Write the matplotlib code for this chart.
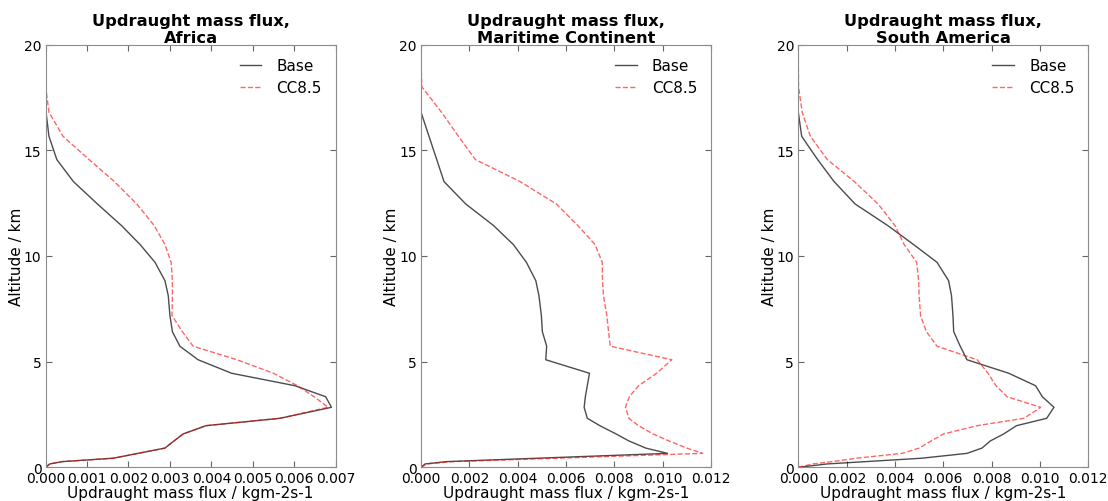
import matplotlib
matplotlib.use("Agg")
import matplotlib.pyplot as plt

# model level heights (km)
altitude = [0.0, 0.16, 0.27, 0.43, 0.66, 0.91, 1.25, 1.58, 1.97, 2.32, 2.84,
            3.34, 3.86, 4.45, 5.09, 5.73, 6.42, 7.18, 8.12, 8.83, 9.70,
            10.54, 11.44, 12.46, 13.52, 14.56, 15.66, 16.8, 18.0, 19.2, 20.0]

regions = ["Africa", "Maritime Continent", "South America"]

africa_base = [0, 0.0001, 0.0004, 0.00163, 0.00223, 0.00288, 0.0031, 0.00332, 0.00387, 0.00566, 0.0069,
               0.00676, 0.00602, 0.00449, 0.00368, 0.00324, 0.00306, 0.003, 0.00296, 0.00288, 0.00264,
               0.00228, 0.00183, 0.00125, 0.00067, 0.00027, 0.00008, 0.00001, 0, 0, 0]
africa_cc = [0, 0.0001, 0.0004, 0.00163, 0.00223, 0.00288, 0.0031, 0.00332, 0.00387, 0.00566, 0.00682,
             0.00648, 0.00608, 0.0055, 0.00462, 0.00356, 0.0033, 0.00305, 0.00306, 0.00306, 0.00303,
             0.00288, 0.00262, 0.0022, 0.00166, 0.00105, 0.00042, 0.00008, 0, 0, 0]

maritime_base = [0, 0.00017, 0.00106, 0.00481, 0.0102, 0.0093, 0.0086, 0.00807, 0.0074, 0.00688, 0.00675,
                 0.0068, 0.00688, 0.00697, 0.00516, 0.0052, 0.00502, 0.00498, 0.00488, 0.00475, 0.00436,
                 0.00382, 0.003, 0.00185, 0.00095, 0.00065, 0.00033, 0, 0, 0, 0]
maritime_cc = [0, 0.00023, 0.00133, 0.0056, 0.01165, 0.011, 0.01025, 0.0096, 0.009, 0.0086, 0.00846,
               0.00862, 0.009, 0.00975, 0.01038, 0.00783, 0.00776, 0.00769, 0.00755, 0.00751, 0.0075,
               0.0072, 0.00649, 0.0056, 0.0041, 0.00225, 0.00155, 0.00085, 0.00003, 0, 0]

samerica_base = [0, 0.0012, 0.0028, 0.0051, 0.00698, 0.0076, 0.00795, 0.0085, 0.00903, 0.01028, 0.01058,
                 0.0101, 0.00982, 0.00871, 0.00698, 0.0067, 0.00643, 0.0064, 0.00634, 0.00622, 0.00574,
                 0.00477, 0.0037, 0.00235, 0.00148, 0.0008, 0.00014, 0, 0, 0, 0]
samerica_cc = [0, 0.0006, 0.0014, 0.0024, 0.0043, 0.005, 0.0055, 0.00602, 0.0074, 0.00934, 0.01003,
               0.00864, 0.00818, 0.00785, 0.0074, 0.00574, 0.0053, 0.00506, 0.005, 0.00498, 0.0049,
               0.00438, 0.004, 0.0033, 0.00232, 0.0012, 0.0005, 0.00016, 0.00001, 0, 0]

base_runs = [africa_base, maritime_base, samerica_base]
cc_runs = [africa_cc, maritime_cc, samerica_cc]
xmax = [0.007, 0.012, 0.012]
xstep = [0.001, 0.002, 0.002]

fig = plt.figure(figsize=(11.08, 5.02), dpi=100)
lefts = [0.0412, 0.380, 0.7205]

for i in range(3):
    ax = fig.add_axes([lefts[i], 0.0671, 0.2617, 0.842])
    ax.plot(base_runs[i], altitude, color='black', alpha=0.7, lw=1.0, label='Base')
    ax.plot(cc_runs[i], altitude, color='red', alpha=0.6, lw=1.0, ls='--', label='CC8.5')
    ax.set_xlim(0, xmax[i])
    ax.set_ylim(0, 20)
    n = int(round(xmax[i] / xstep[i]))
    ax.set_xticks([k * xstep[i] for k in range(n + 1)])
    ax.set_xticklabels(['%.3f' % (k * xstep[i]) for k in range(n + 1)])
    ax.set_yticks([0, 5, 10, 15, 20])
    ax.tick_params(direction='in', top=True, right=True, labelsize=10, length=4,
                   color='0.4', pad=3)
    for s in ax.spines.values():
        s.set_color('0.55')
    ax.set_xlabel('Updraught mass flux / kgm-2s-1', fontsize=11, labelpad=0)
    ax.set_ylabel('Altitude / km', fontsize=11, labelpad=0)
    ax.set_title('Updraught mass flux,\n' + regions[i], fontsize=11.7, fontweight='bold',
                 linespacing=1.15, pad=2)
    ax.legend(loc='upper right', frameon=False, fontsize=11, handlelength=1.4,
              handletextpad=1.0, labelspacing=0.45)

fig.savefig('out.png', dpi=100)
